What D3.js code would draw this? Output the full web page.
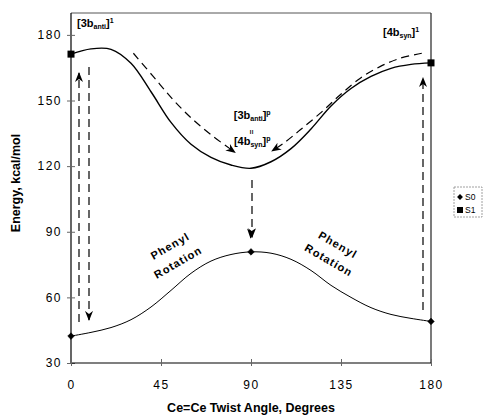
<!DOCTYPE html>
<html lang="en">
<head>
<meta charset="utf-8">
<title>twist</title>
<script src="https://cdn.jsdelivr.net/npm/d3@7"></script>
<style>
  body { margin: 0; background: #fff; }
  text { font-family: "Liberation Sans", Arial, sans-serif; fill: #000; }
</style>
</head>
<body>
<script>
// data
var angles = [0, 10, 20, 30, 40, 50, 60, 70, 80, 90, 100, 110, 120, 130, 140, 150, 160, 170, 180]
var s0 = [42.3, 44, 46.2, 49.8, 55.6, 63.2, 71, 76.6, 79.6, 80.8, 80.2, 77.4, 72.3, 65.5, 60, 55.3, 52.2, 50.4, 49]
var s1 = [171.2, 173.6, 173.4, 167, 154, 140, 130, 124, 120.5, 119, 122, 128, 137, 147.5, 155.5, 161, 164.7, 166.5, 167.2]
var s0Markers = [0, 90, 180]
var s1Markers = [0, 180]
var xTicks = [0, 45, 90, 135, 180]
var yTicks = [30, 60, 90, 120, 150, 180]

// dashed arrows (angle, energy)
var arrowLeftUp = [[4, 48.7], [4, 162.6]]
var arrowLeftDown = [[9, 165.3], [9, 49.7]]
var arrowRightUp = [[176, 54.2], [176, 160.3]]
var arrowCenter = [[90.5, 113.7], [90.5, 87.5]]
var arrowCurveLeft = [[31.2, 171.6], [41.2, 160.9], [51.2, 150.2], [61.2, 141.1], [71.2, 133.5], [82, 126.3]]
var arrowCurveRight = [[175.4, 171.6], [164.5, 169.3], [154.5, 165.5], [144.5, 160.1], [134.5, 152.5], [124.5, 144.1], [114.5, 136.5], [106.2, 130.4], [100.5, 126.9]]

var w = 483, h = 417
var svg = d3.select("body").append("svg").attr("width", w).attr("height", h)

var x = d3.scaleLinear().domain([0, 180]).range([71, 431])
var y = d3.scaleLinear().domain([30, 190]).range([363, 13])

// arrowhead
svg.append("defs").append("marker")
  .attr("id", "head")
  .attr("viewBox", "0 -5 10 10")
  .attr("refX", 9).attr("refY", 0)
  .attr("markerWidth", 10).attr("markerHeight", 10)
  .attr("markerUnits", "userSpaceOnUse")
  .attr("orient", "auto")
  .append("path")
  .attr("d", "M0,-4L10,0L0,4L3,0Z")
  .attr("fill", "#000")

// frame
svg.append("line").attr("x1", x(0)).attr("x2", x(180)).attr("y1", y(190)).attr("y2", y(190))
  .attr("stroke", "#555").attr("stroke-width", 1)
svg.append("line").attr("x1", x(180)).attr("x2", x(180)).attr("y1", y(190)).attr("y2", y(30))
  .attr("stroke", "#222").attr("stroke-width", 1.2)

// axes
var yAxis = svg.append("g").attr("transform", "translate(" + x(0) + ",0)")
  .call(d3.axisLeft(y).tickValues(yTicks).tickSize(4).tickPadding(5))
yAxis.select(".domain").attr("d", "M0," + y(190) + "V" + y(30)).attr("stroke", "#000").attr("stroke-width", 1.2)
yAxis.selectAll(".tick line").attr("x2", 4).attr("x1", -4).attr("stroke", "#666")
yAxis.selectAll(".tick text").attr("font-size", 12).attr("letter-spacing", "1.5px")
  .attr("font-family", "Liberation Sans, Arial, sans-serif")

var xAxis = svg.append("g").attr("transform", "translate(0," + y(30) + ")")
  .call(d3.axisBottom(x).tickValues(xTicks).tickSize(3).tickPadding(14))
xAxis.select(".domain").attr("d", "M" + x(0) + ",0H" + x(180)).attr("stroke", "#000").attr("stroke-width", 1.2)
xAxis.selectAll(".tick line").attr("y1", -4).attr("y2", 3).attr("stroke", "#666")
xAxis.selectAll(".tick text").attr("font-size", 12).attr("letter-spacing", "1.5px")
  .attr("font-family", "Liberation Sans, Arial, sans-serif")

// axis titles
svg.append("text").attr("x", 251).attr("y", 412).attr("text-anchor", "middle")
  .attr("font-size", 12.5).attr("font-weight", "bold").text("Ce=Ce Twist Angle, Degrees")
svg.append("text").attr("transform", "translate(20,183) rotate(-90)").attr("text-anchor", "middle")
  .attr("font-size", 12.5).attr("font-weight", "bold").text("Energy, kcal/mol")

// curves
var line = d3.line().x(function(d) { return x(d[0]) }).y(function(d) { return y(d[1]) })
  .curve(d3.curveCatmullRom.alpha(0.5))

svg.append("path").datum(angles.map(function(a, i) { return [a, s0[i]] }))
  .attr("d", line).attr("fill", "none").attr("stroke", "#000").attr("stroke-width", 1)
svg.append("path").datum(angles.map(function(a, i) { return [a, s1[i]] }))
  .attr("d", line).attr("fill", "none").attr("stroke", "#000").attr("stroke-width", 1.4)

// markers
svg.selectAll(".m0").data(s0Markers).enter().append("path").attr("class", "m0")
  .attr("transform", function(d) { return "translate(" + x(d) + "," + y(s0[angles.indexOf(d)]) + ")" })
  .attr("d", d3.symbol().type(d3.symbolDiamond2).size(28))
  .attr("fill", "#000").attr("stroke", "#000").attr("stroke-width", 0.5)
svg.selectAll(".m1").data(s1Markers).enter().append("rect").attr("class", "m1")
  .attr("x", function(d) { return x(d) - 3.5 })
  .attr("y", function(d) { return y(s1[angles.indexOf(d)]) - 3.5 })
  .attr("width", 7).attr("height", 7).attr("fill", "#000")

// dashed arrows
var straight = d3.line().x(function(d) { return x(d[0]) }).y(function(d) { return y(d[1]) })
var smooth = d3.line().x(function(d) { return x(d[0]) }).y(function(d) { return y(d[1]) }).curve(d3.curveCatmullRom)
var arrows = [
  [arrowLeftUp, straight], [arrowLeftDown, straight], [arrowRightUp, straight],
  [arrowCenter, straight], [arrowCurveLeft, smooth], [arrowCurveRight, smooth]
]
arrows.forEach(function(a) {
  svg.append("path").datum(a[0]).attr("d", a[1])
    .attr("fill", "none").attr("stroke", "#000").attr("stroke-width", 1.2)
    .attr("stroke-dasharray", "8,5").attr("marker-end", "url(#head)")
})
// second head on the center arrow
svg.append("path").datum([[89.5, 89], [89.8, 87.3]]).attr("d", straight)
  .attr("fill", "none").attr("stroke", "#000").attr("marker-end", "url(#head)")
  .attr("transform", "rotate(12," + x(89.8) + "," + y(87.3) + ")")

// state labels
function stateLabel(px, py, base, sub, sup, anchor) {
  var t = svg.append("text").attr("x", px).attr("y", py).attr("font-weight", "bold")
    .attr("font-size", 11).attr("text-anchor", anchor || "start")
  t.append("tspan").text(base)
  t.append("tspan").attr("font-size", 7).attr("dy", 2).text(sub)
  t.append("tspan").attr("dy", -2).text("]")
  t.append("tspan").attr("font-size", 7).attr("dy", -4).text(sup)
  return t
}
stateLabel(x(3), y(183.5), "[3b", "anti", "1")
stateLabel(x(156), y(179.3), "[4b", "syn", "1")
stateLabel(x(90.6), y(141.5), "[3b", "anti", "p", "middle")
stateLabel(x(90.6), y(129.6), "[4b", "syn", "p", "middle")
svg.append("text").attr("transform", "translate(" + (x(90.6) - 3) + "," + y(135.6) + ") rotate(90)")
  .attr("font-size", 8).attr("font-weight", "bold").attr("text-anchor", "middle").text("=")

// phenyl rotation labels
function rot(px, py, ang, s) {
  svg.append("text").attr("transform", "translate(" + px + "," + py + ") rotate(" + ang + ")")
    .attr("text-anchor", "middle").attr("font-size", 11).attr("font-weight", "bold")
    .attr("letter-spacing", "1.1px").text(s)
}
rot(x(50.5), y(82), -30, "Phenyl")
rot(x(54.5), y(74.5), -30, "Rotation")
rot(x(132.5), y(82.5), 30, "Phenyl")
rot(x(128), y(75.5), 30, "Rotation")

// legend
var lg = svg.append("g").attr("transform", "translate(454,187)")
lg.append("rect").attr("width", 28).attr("height", 30).attr("fill", "#fff")
  .attr("stroke", "#888").attr("stroke-width", 0.8).attr("stroke-dasharray", "2,1")
lg.append("path").attr("transform", "translate(6,10)")
  .attr("d", d3.symbol().type(d3.symbolDiamond2).size(22)).attr("fill", "#000")
lg.append("rect").attr("x", 3).attr("y", 20).attr("width", 6).attr("height", 6).attr("fill", "#000")
lg.append("text").attr("x", 11).attr("y", 13).attr("font-size", 8.5).text("S0")
lg.append("text").attr("x", 11).attr("y", 26).attr("font-size", 8.5).text("S1")
</script>
</body>
</html>
